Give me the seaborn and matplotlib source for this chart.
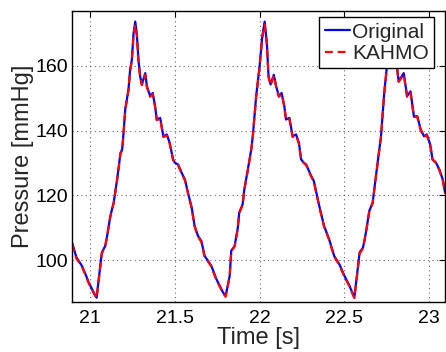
import numpy as np
import pandas as pd
import matplotlib
matplotlib.use("Agg")
import matplotlib.pyplot as plt
import seaborn as sns

# --- data (time in s, pressure in mmHg) ---
time_s = [
    20.894, 20.92, 20.953, 20.975, 20.992, 21.012, 21.039, 21.07, 21.09, 21.10,
    21.12, 21.13, 21.14, 21.16, 21.18, 21.19, 21.198, 21.208, 21.227, 21.237,
    21.247, 21.257, 21.267, 21.276, 21.286, 21.296, 21.306, 21.326, 21.336, 21.355,
    21.37, 21.384, 21.394, 21.414, 21.433, 21.453, 21.47, 21.49, 21.50, 21.52,
    21.54, 21.56, 21.578, 21.60, 21.617, 21.637, 21.657, 21.676, 21.696, 21.716,
    21.745, 21.765, 21.784, 21.80, 21.824, 21.833, 21.853, 21.872, 21.88, 21.90,
    21.91, 21.931, 21.951, 21.96, 21.98, 22.00, 22.016, 22.03, 22.043, 22.053,
    22.065, 22.084, 22.098, 22.114, 22.13, 22.146, 22.156, 22.176, 22.195, 22.215,
    22.232, 22.245, 22.26, 22.275, 22.30, 22.32, 22.35, 22.38, 22.41, 22.44,
    22.47, 22.50, 22.53, 22.559, 22.59, 22.61, 22.627, 22.647, 22.667, 22.686,
    22.706, 22.716, 22.735, 22.75, 22.77, 22.79, 22.80, 22.81, 22.82, 22.85,
    22.87, 22.89, 22.91, 22.93, 22.95, 22.97, 22.986, 23.006, 23.02, 23.04,
    23.06, 23.08, 23.094,
]
original_mmhg = [
    105.5, 100.9, 98.2, 95.5, 93.2, 91.1, 88.4, 102.4, 104.4, 107.1,
    113.6, 115.7, 117.8, 124.9, 133.1, 134.2, 139.3, 146.5, 152.6, 158.8,
    161.8, 170.0, 173.6, 170.0, 161.8, 156.7, 154.2, 157.7, 153.6, 150.6,
    151.6, 147.5, 143.4, 143.9, 138.2, 138.8, 136.2, 131.1, 130.1, 129.5,
    127.0, 124.9, 120.8, 116.2, 110.6, 107.5, 105.9, 101.3, 99.8, 98.2,
    94.2, 92.1, 90.1, 89.0, 95.2, 102.9, 104.4, 110.1, 114.7, 117.2,
    121.8, 128.0, 134.2, 138.2, 150.6, 159.8, 169.0, 173.6, 167.0, 156.7,
    154.2, 157.2, 153.6, 150.6, 151.6, 147.5, 143.4, 143.9, 138.2, 138.8,
    136.2, 131.1, 130.1, 129.5, 126.5, 124.4, 117.2, 110.6, 106.5, 101.3,
    98.8, 95.2, 92.1, 88.5, 102.4, 103.9, 108.5, 115.2, 117.8, 125.9,
    134.2, 138.2, 151.6, 159.3, 168.0, 173.5, 166.0, 159.8, 155.2, 157.7,
    150.6, 152.1, 144.4, 144.4, 140.3, 138.2, 138.8, 135.7, 131.1, 130.1,
    128.0, 124.9, 120.8,
]
kahmo_mmhg = [
    105.0, 100.5, 98.0, 95.2, 93.0, 90.8, 88.2, 102.0, 104.2, 107.0,
    113.3, 115.5, 117.6, 124.6, 132.8, 134.0, 139.0, 146.2, 152.4, 158.5,
    161.5, 169.5, 172.6, 169.6, 161.5, 156.4, 154.0, 157.2, 153.3, 150.4,
    151.2, 147.3, 143.2, 143.6, 138.0, 138.5, 136.0, 131.0, 130.0, 129.3,
    126.8, 124.6, 120.6, 116.0, 110.4, 107.3, 105.6, 101.1, 99.6, 98.0,
    94.0, 91.9, 89.9, 88.7, 95.0, 102.6, 104.2, 109.9, 114.5, 117.0,
    121.6, 127.8, 134.0, 138.0, 150.4, 159.5, 168.5, 172.7, 166.6, 156.4,
    154.0, 156.9, 153.4, 150.4, 151.3, 147.3, 143.2, 143.6, 138.0, 138.5,
    136.0, 131.0, 130.0, 129.3, 126.3, 124.2, 117.0, 110.4, 106.3, 101.1,
    98.6, 95.0, 91.9, 88.3, 102.0, 103.7, 108.3, 115.0, 117.6, 125.6,
    134.0, 138.0, 151.4, 159.0, 167.6, 172.8, 165.7, 159.5, 155.0, 157.3,
    150.4, 151.8, 144.2, 144.2, 140.1, 138.0, 138.6, 135.5, 131.0, 130.0,
    127.8, 124.7, 120.6,
]

x_ticks = [21, 21.5, 22, 22.5, 23]
x_tick_labels = ["21", "21.5", "22", "22.5", "23"]
y_ticks = [100, 120, 140, 160]

df = pd.DataFrame({"t": time_s, "orig": original_mmhg, "kahmo": kahmo_mmhg})

sns.set_style("white")
plt.rcParams["font.family"] = ["Liberation Sans", "DejaVu Sans"]

fig = plt.figure(figsize=(4.46, 3.52), dpi=100)
ax = fig.add_axes([0.1614, 0.142, 0.8366, 0.827])

sns.lineplot(data=df, x="t", y="orig", ax=ax, color="#0000ff", lw=1.6,
             label="Original", sort=False)
sns.lineplot(data=df, x="t", y="kahmo", ax=ax, color="#ff0000", lw=1.6,
             label="KAHMO", sort=False, dashes=False)
ax.lines[1].set_dashes([3.5, 2.2])

ax.set_xlim(20.894, 23.094)
ax.set_ylim(87.1, 176.9)
ax.set_xticks(x_ticks)
ax.set_xticklabels(x_tick_labels)
ax.set_yticks(y_ticks)

ax.grid(True, linestyle=(0, (1, 3)), color="#666666", lw=0.8)
for s in ax.spines.values():
    s.set_visible(True)
    s.set_color("black")
    s.set_linewidth(1.0)
ax.tick_params(direction="in", length=4, width=0.8, top=True, right=True,
               labelsize=14, colors="black")
ax.tick_params(axis="x", pad=6)
ax.tick_params(axis="y", pad=3)

ax.set_xlabel("Time [s]", fontsize=17, labelpad=0)
ax.set_ylabel("Pressure [mmHg]", fontsize=17, labelpad=1)

leg = ax.legend(loc="upper right", bbox_to_anchor=(0.9706, 0.978),
                borderaxespad=0, fontsize=15, frameon=True, fancybox=False,
                handlelength=1.2, handletextpad=0.12, borderpad=0.25,
                labelspacing=0.12)
leg.get_frame().set_edgecolor("black")
leg.get_frame().set_linewidth(1.0)
leg.get_frame().set_alpha(1)

fig.savefig("out.png", dpi=100)
